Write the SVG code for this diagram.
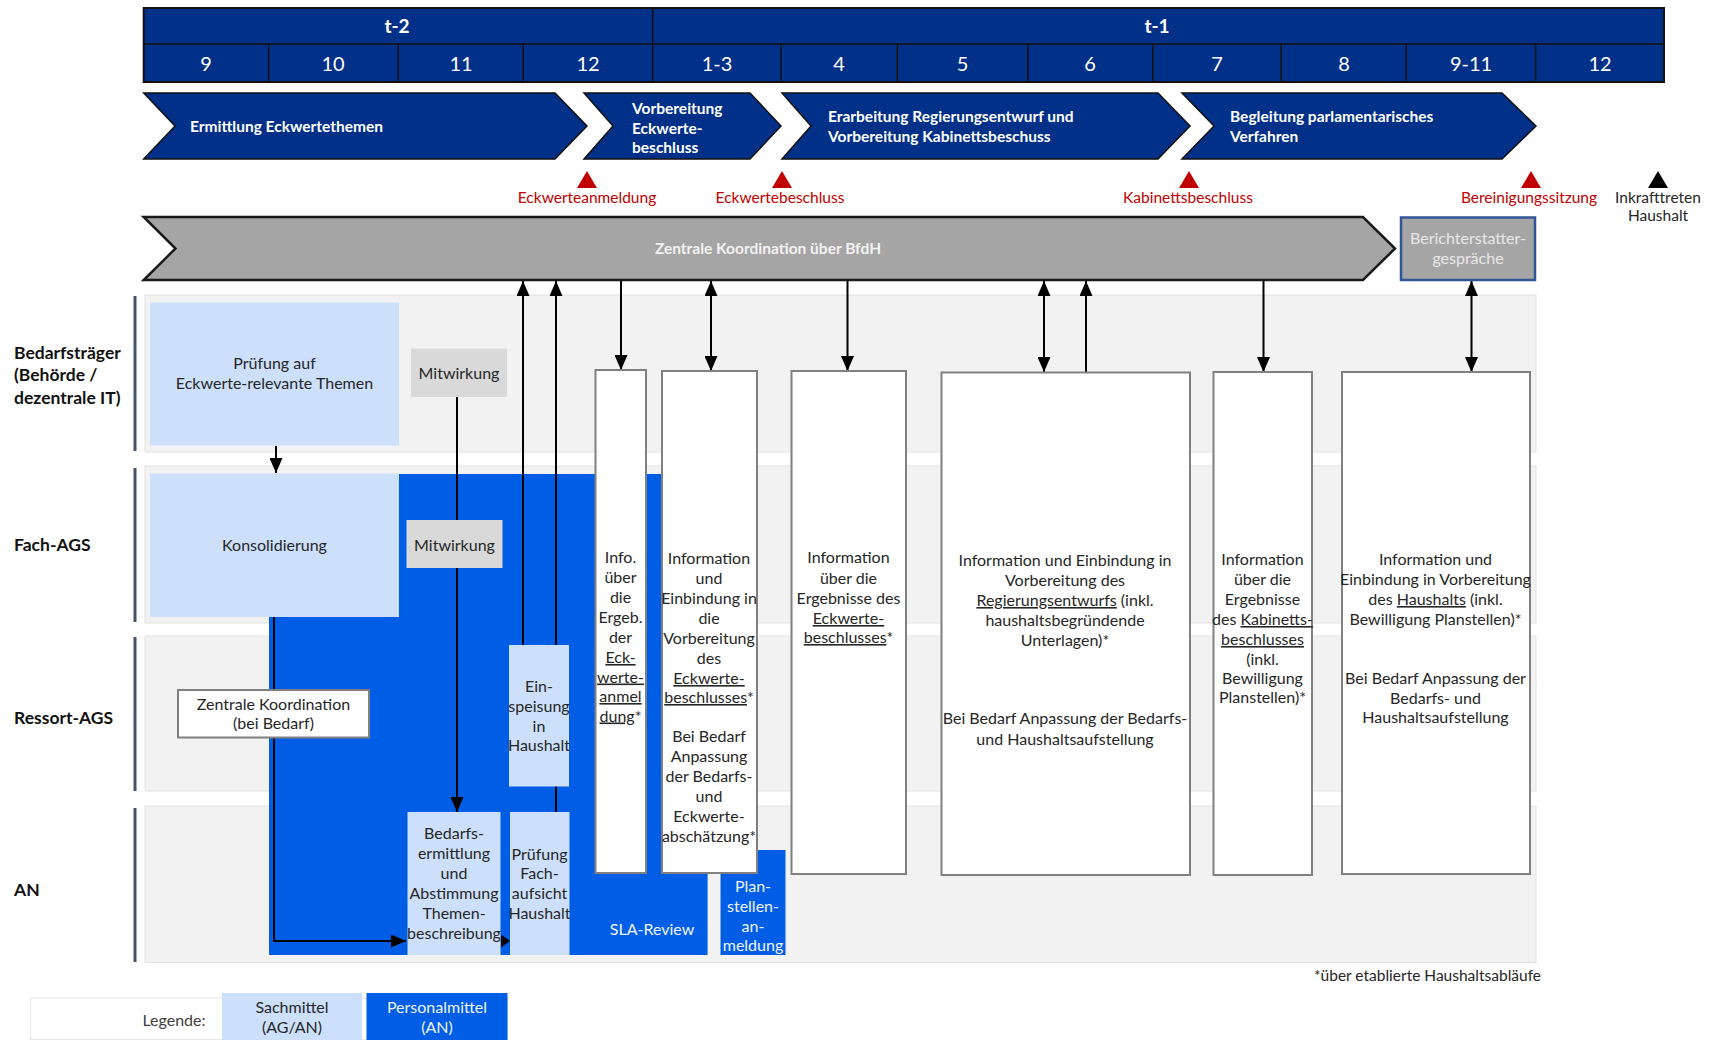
<svg xmlns="http://www.w3.org/2000/svg" width="1720" height="1040" viewBox="0 0 1720 1040">
  <style>
    text { font-family: Lato, "Open Sans", "Liberation Sans", sans-serif; }
    .hdr { fill: #003087; stroke: #111; stroke-width: 2; }
    .grid { stroke: #111; stroke-width: 1.5; }
    .htxt { fill: #fff; font-size: 20px; text-anchor: middle; }
    .hbold { fill: #fff; font-size: 19px; font-weight: bold; text-anchor: middle; }
    .chev { fill: #003087; stroke: #111; stroke-width: 1.5; }
    .ctxt { fill: #fff; font-size: 15.5px; font-weight: bold; }
    .ms { fill: #C00000; font-size: 15.5px; text-anchor: middle; }
    .msk { fill: #262626; font-size: 15.5px; text-anchor: middle; }
    .lane { fill: #F2F2F2; stroke: #E2E2E2; stroke-width: 1; }
    .laneline { stroke: #44546A; stroke-width: 3; }
    .lanelbl { fill: #111; font-size: 17.5px; font-weight: bold; }
    .sach { fill: #CCE0FC; }
    .pers { fill: #005EE6; }
    .mitw { fill: #D9D9D9; }
    .wbox { fill: #fff; stroke: #808080; stroke-width: 2; }
    .t { fill: #262626; font-size: 16px; text-anchor: middle; }
    .tw { fill: #F0F4FF; font-size: 16px; text-anchor: middle; }
    .u { text-decoration: underline; }
    .con { fill: none; stroke: #000; stroke-width: 2; }
  </style>
  <defs>
    <marker id="ah" markerUnits="userSpaceOnUse" markerWidth="15" markerHeight="13" refX="15" refY="6.5" orient="auto-start-reverse">
      <path d="M0,0 L15,6.5 L0,13 z" fill="#000"/>
    </marker>
  </defs>

  <!-- timeline header -->
  <g id="timeline">
    <rect class="hdr" x="143.7" y="8" width="1520.3" height="74"/>
    <line class="grid" x1="143.7" y1="44" x2="1664" y2="44"/>
    <line class="grid" x1="652.7" y1="8" x2="652.7" y2="82"/>
    <g class="grid">
      <line x1="268.7" y1="44" x2="268.7" y2="82"/>
      <line x1="398.2" y1="44" x2="398.2" y2="82"/>
      <line x1="523.2" y1="44" x2="523.2" y2="82"/>
      <line x1="781" y1="44" x2="781" y2="82"/>
      <line x1="897.3" y1="44" x2="897.3" y2="82"/>
      <line x1="1027.8" y1="44" x2="1027.8" y2="82"/>
      <line x1="1152.8" y1="44" x2="1152.8" y2="82"/>
      <line x1="1281.2" y1="44" x2="1281.2" y2="82"/>
      <line x1="1406.2" y1="44" x2="1406.2" y2="82"/>
      <line x1="1535.7" y1="44" x2="1535.7" y2="82"/>
    </g>
    <text class="hbold" x="397" y="33">t-2</text>
    <text class="hbold" x="1157" y="33">t-1</text>
    <text class="htxt" x="206" y="71">9</text>
    <text class="htxt" x="333" y="71">10</text>
    <text class="htxt" x="461" y="71">11</text>
    <text class="htxt" x="588" y="71">12</text>
    <text class="htxt" x="717" y="71">1-3</text>
    <text class="htxt" x="839" y="71">4</text>
    <text class="htxt" x="962.5" y="71">5</text>
    <text class="htxt" x="1090" y="71">6</text>
    <text class="htxt" x="1217" y="71">7</text>
    <text class="htxt" x="1344" y="71">8</text>
    <text class="htxt" x="1471" y="71">9-11</text>
    <text class="htxt" x="1600" y="71">12</text>
  </g>

  <!-- phase chevrons -->
  <g id="phase-ermittlung">
    <polygon class="chev" points="143.7,93 555,93 587,126 555,159 143.7,159 175,126"/>
    <text class="ctxt" x="190" y="132">Ermittlung Eckwertethemen</text>
  </g>
  <g id="phase-vorbereitung">
    <polygon class="chev" points="584,93 750,93 781,126 750,159 584,159 613,126"/>
    <text class="ctxt" x="632"><tspan x="632" y="114">Vorbereitung</tspan><tspan x="632" y="133.5">Eckwerte-</tspan><tspan x="632" y="153">beschluss</tspan></text>
  </g>
  <g id="phase-erarbeitung">
    <polygon class="chev" points="782,93 1158,93 1190,126 1158,159 782,159 811,126"/>
    <text class="ctxt"><tspan x="828" y="121.5">Erarbeitung Regierungsentwurf und</tspan><tspan x="828" y="141.5">Vorbereitung Kabinettsbeschuss</tspan></text>
  </g>
  <g id="phase-begleitung">
    <polygon class="chev" points="1182,93 1502,93 1536,126 1502,159 1182,159 1214,126"/>
    <text class="ctxt"><tspan x="1230" y="121.5">Begleitung parlamentarisches</tspan><tspan x="1230" y="141.5">Verfahren</tspan></text>
  </g>

  <!-- milestones -->
  <g id="ms-eckwerteanmeldung">
    <polygon points="587,171 597,188 577,188" fill="#C00000"/>
    <text class="ms" x="587" y="203">Eckwerteanmeldung</text>
  </g>
  <g id="ms-eckwertebeschluss">
    <polygon points="782,171 792,188 772,188" fill="#C00000"/>
    <text class="ms" x="780" y="203">Eckwertebeschluss</text>
  </g>
  <g id="ms-kabinettsbeschluss">
    <polygon points="1189,171 1199,188 1179,188" fill="#C00000"/>
    <text class="ms" x="1188" y="203">Kabinettsbeschluss</text>
  </g>
  <g id="ms-bereinigungssitzung">
    <polygon points="1531,171 1541,188 1521,188" fill="#C00000"/>
    <text class="ms" x="1529" y="203">Bereinigungssitzung</text>
  </g>
  <g id="ms-inkrafttreten">
    <polygon points="1658,171 1668,188 1648,188" fill="#000"/>
    <text class="msk"><tspan x="1658" y="203">Inkrafttreten</tspan><tspan x="1658" y="221">Haushalt</tspan></text>
  </g>

  <!-- central coordination -->
  <g id="zentrale-koordination">
    <polygon points="143.7,217 1363,217 1395,248.5 1363,280 143.7,280 175.5,248.5" fill="#A5A5A5" stroke="#1a1a1a" stroke-width="2.5"/>
    <text x="768" y="254" fill="#F2F2F2" font-size="15.5" font-weight="bold" text-anchor="middle">Zentrale Koordination über BfdH</text>
  </g>
  <g id="berichterstatter">
    <rect x="1401" y="217.5" width="134" height="62.5" fill="#A5A5A5" stroke="#2F5597" stroke-width="2.5"/>
    <text fill="#E8E8E8" font-size="16" text-anchor="middle"><tspan x="1468" y="244">Berichterstatter-</tspan><tspan x="1468" y="264">gespräche</tspan></text>
  </g>

  <!-- swimlanes -->
  <g id="lanes">
    <rect class="lane" x="145" y="295" width="1391" height="157"/>
    <rect class="lane" x="145" y="466" width="1391" height="157"/>
    <rect class="lane" x="145" y="636" width="1391" height="155"/>
    <rect class="lane" x="145" y="806" width="1391" height="156.5"/>
    <line class="laneline" x1="135" y1="296" x2="135" y2="451"/>
    <line class="laneline" x1="135" y1="468" x2="135" y2="622"/>
    <line class="laneline" x1="135" y1="637" x2="135" y2="791"/>
    <line class="laneline" x1="135" y1="808" x2="135" y2="962"/>
    <text class="lanelbl"><tspan x="14" y="358.5">Bedarfsträger</tspan><tspan x="14" y="381">(Behörde /</tspan><tspan x="14" y="403.5">dezentrale IT)</tspan></text>
    <text class="lanelbl" x="14" y="551">Fach-AGS</text>
    <text class="lanelbl" x="14" y="724">Ressort-AGS</text>
    <text class="lanelbl" x="14" y="896">AN</text>
  </g>

  <!-- personnel resources area -->
  <g id="personalmittel-bereich">
    <polygon class="pers" points="399,474 707.6,474 707.6,955 269,955 269,617 399,617"/>
    <text class="tw" x="652" y="935">SLA-Review</text>
  </g>

  <!-- connectors -->
  <g id="connectors">
    <line class="con" x1="276" y1="446" x2="276" y2="473" marker-end="url(#ah)"/>
    <line class="con" x1="457" y1="397" x2="457" y2="812" marker-end="url(#ah)"/>
    <polyline class="con" points="274,617 274,941 406,941" marker-end="url(#ah)"/>
    <polygon points="501,934.5 510,941 501,947.5" fill="#000"/>
    <line class="con" x1="523" y1="645" x2="523" y2="281" marker-end="url(#ah)"/>
    <line class="con" x1="556" y1="812" x2="556" y2="281" marker-end="url(#ah)"/>
    <line class="con" x1="621" y1="281" x2="621" y2="370" marker-end="url(#ah)"/>
    <line class="con" x1="711" y1="281" x2="711" y2="371" marker-start="url(#ah)" marker-end="url(#ah)"/>
    <line class="con" x1="847.5" y1="281" x2="847.5" y2="371" marker-end="url(#ah)"/>
    <line class="con" x1="1044" y1="281" x2="1044" y2="372" marker-start="url(#ah)" marker-end="url(#ah)"/>
    <line class="con" x1="1086" y1="372" x2="1086" y2="281" marker-end="url(#ah)"/>
    <line class="con" x1="1263.5" y1="281" x2="1263.5" y2="372" marker-end="url(#ah)"/>
    <line class="con" x1="1471.5" y1="281" x2="1471.5" y2="372" marker-start="url(#ah)" marker-end="url(#ah)"/>
  </g>

  <!-- activities -->
  <g id="pruefung-eckwerte">
    <rect class="sach" x="150" y="302.5" width="249" height="143"/>
    <text class="t"><tspan x="274.5" y="369">Prüfung auf</tspan><tspan x="274.5" y="389">Eckwerte-relevante Themen</tspan></text>
  </g>
  <g id="mitwirkung-1">
    <rect class="mitw" x="411" y="348.5" width="96" height="48.5"/>
    <text class="t" x="459" y="379">Mitwirkung</text>
  </g>
  <g id="konsolidierung">
    <rect class="sach" x="150" y="473.5" width="249" height="143.5"/>
    <text class="t" x="274.5" y="551">Konsolidierung</text>
  </g>
  <g id="mitwirkung-2">
    <rect class="mitw" x="406.5" y="520" width="96" height="48"/>
    <text class="t" x="454.5" y="551">Mitwirkung</text>
  </g>
  <g id="zentrale-koordination-bedarf">
    <rect class="wbox" x="178" y="690" width="191" height="47.5"/>
    <text class="t"><tspan x="273.5" y="710">Zentrale Koordination</tspan><tspan x="273.5" y="729">(bei Bedarf)</tspan></text>
  </g>
  <g id="einspeisung">
    <rect class="sach" x="509" y="645" width="60" height="141.5"/>
    <text class="t"><tspan x="539" y="692">Ein-</tspan><tspan x="539" y="712">speisung</tspan><tspan x="539" y="731.5">in</tspan><tspan x="539" y="751">Haushalt</tspan></text>
  </g>
  <g id="bedarfsermittlung">
    <rect class="sach" x="407.5" y="812" width="93" height="143"/>
    <text class="t"><tspan x="454" y="839">Bedarfs-</tspan><tspan x="454" y="859">ermittlung</tspan><tspan x="454" y="879">und</tspan><tspan x="454" y="899">Abstimmung</tspan><tspan x="454" y="919">Themen-</tspan><tspan x="454" y="939">beschreibung</tspan></text>
  </g>
  <g id="pruefung-fachaufsicht">
    <rect class="sach" x="510" y="812" width="59.5" height="143"/>
    <text class="t"><tspan x="539.5" y="859.5">Prüfung</tspan><tspan x="539.5" y="879">Fach-</tspan><tspan x="539.5" y="899">aufsicht</tspan><tspan x="539.5" y="919">Haushalt</tspan></text>
  </g>
  <g id="planstellenanmeldung">
    <rect class="pers" x="720.5" y="850" width="65" height="105"/>
    <text class="tw"><tspan x="753" y="892">Plan-</tspan><tspan x="753" y="912">stellen-</tspan><tspan x="753" y="932">an-</tspan><tspan x="753" y="950.5">meldung</tspan></text>
  </g>

  <g id="info-eckwerteanmeldung">
    <rect class="wbox" x="595.5" y="370" width="50.5" height="503"/>
    <text class="t"><tspan x="620.5" y="563">Info.</tspan><tspan x="620.5" y="583">über</tspan><tspan x="620.5" y="603">die</tspan><tspan x="620.5" y="623">Ergeb.</tspan><tspan x="620.5" y="642.5">der</tspan><tspan x="620.5" y="663" class="u">Eck-</tspan><tspan x="620.5" y="682.5" class="u">werte-</tspan><tspan x="620.5" y="702" class="u">anmel</tspan><tspan x="620.5" y="721.5"><tspan class="u">dung</tspan>*</tspan></text>
  </g>
  <g id="info-eckwertebeschluss-vorbereitung">
    <rect class="wbox" x="662" y="371" width="95" height="502"/>
    <text class="t"><tspan x="709" y="564">Information</tspan><tspan x="709" y="584">und</tspan><tspan x="709" y="604">Einbindung in</tspan><tspan x="709" y="624">die</tspan><tspan x="709" y="644">Vorbereitung</tspan><tspan x="709" y="664">des</tspan><tspan x="709" y="684" class="u">Eckwerte-</tspan><tspan x="709" y="703"><tspan class="u">beschlusses</tspan>*</tspan><tspan x="709" y="742">Bei Bedarf</tspan><tspan x="709" y="762">Anpassung</tspan><tspan x="709" y="782">der Bedarfs-</tspan><tspan x="709" y="801.5">und</tspan><tspan x="709" y="822">Eckwerte-</tspan><tspan x="709" y="841.5">abschätzung*</tspan></text>
  </g>
  <g id="info-eckwertebeschluss-ergebnisse">
    <rect class="wbox" x="791.5" y="371" width="114.5" height="503"/>
    <text class="t"><tspan x="848.5" y="563">Information</tspan><tspan x="848.5" y="584">über die</tspan><tspan x="848.5" y="604">Ergebnisse des</tspan><tspan x="848.5" y="624" class="u">Eckwerte-</tspan><tspan x="848.5" y="643"><tspan class="u">beschlusses</tspan>*</tspan></text>
  </g>
  <g id="info-regierungsentwurf">
    <rect class="wbox" x="941.5" y="372.5" width="248.5" height="502.5"/>
    <text class="t"><tspan x="1065" y="566">Information und Einbindung in</tspan><tspan x="1065" y="586">Vorbereitung des</tspan><tspan x="1065" y="606"><tspan class="u">Regierungsentwurfs</tspan> (inkl.</tspan><tspan x="1065" y="626">haushaltsbegründende</tspan><tspan x="1065" y="645.5">Unterlagen)*</tspan><tspan x="1065" y="724">Bei Bedarf Anpassung der Bedarfs-</tspan><tspan x="1065" y="744.5">und Haushaltsaufstellung</tspan></text>
  </g>
  <g id="info-kabinettsbeschluss">
    <rect class="wbox" x="1213.5" y="372" width="98.5" height="503"/>
    <text class="t"><tspan x="1262.5" y="565">Information</tspan><tspan x="1262.5" y="585">über die</tspan><tspan x="1262.5" y="605">Ergebnisse</tspan><tspan x="1262.5" y="625">des <tspan class="u">Kabinetts-</tspan></tspan><tspan x="1262.5" y="645" class="u">beschlusses</tspan><tspan x="1262.5" y="665">(inkl.</tspan><tspan x="1262.5" y="684">Bewilligung</tspan><tspan x="1262.5" y="703">Planstellen)*</tspan></text>
  </g>
  <g id="info-haushalt">
    <rect class="wbox" x="1342" y="372" width="188" height="502"/>
    <text class="t"><tspan x="1435.5" y="565">Information und</tspan><tspan x="1435.5" y="585">Einbindung in Vorbereitung</tspan><tspan x="1435.5" y="605">des <tspan class="u">Haushalts</tspan> (inkl.</tspan><tspan x="1435.5" y="625">Bewilligung Planstellen)*</tspan><tspan x="1435.5" y="684">Bei Bedarf Anpassung der</tspan><tspan x="1435.5" y="704">Bedarfs- und</tspan><tspan x="1435.5" y="723">Haushaltsaufstellung</tspan></text>
  </g>

  <!-- footnote -->
  <text x="1541" y="981" fill="#262626" font-size="15.5" text-anchor="end">*über etablierte Haushaltsabläufe</text>

  <!-- legend -->
  <g id="legende">
    <rect x="30.5" y="998" width="477" height="41.5" fill="#fff" stroke="#E6E6E6" stroke-width="1"/>
    <text x="174" y="1026" fill="#404040" font-size="16" text-anchor="middle">Legende:</text>
    <rect class="sach" x="222" y="993" width="140" height="47"/>
    <text class="t"><tspan x="292" y="1013">Sachmittel</tspan><tspan x="292" y="1033">(AG/AN)</tspan></text>
    <rect class="pers" x="366.5" y="993" width="141" height="47"/>
    <text class="tw"><tspan x="437" y="1013">Personalmittel</tspan><tspan x="437" y="1033">(AN)</tspan></text>
  </g>
</svg>
